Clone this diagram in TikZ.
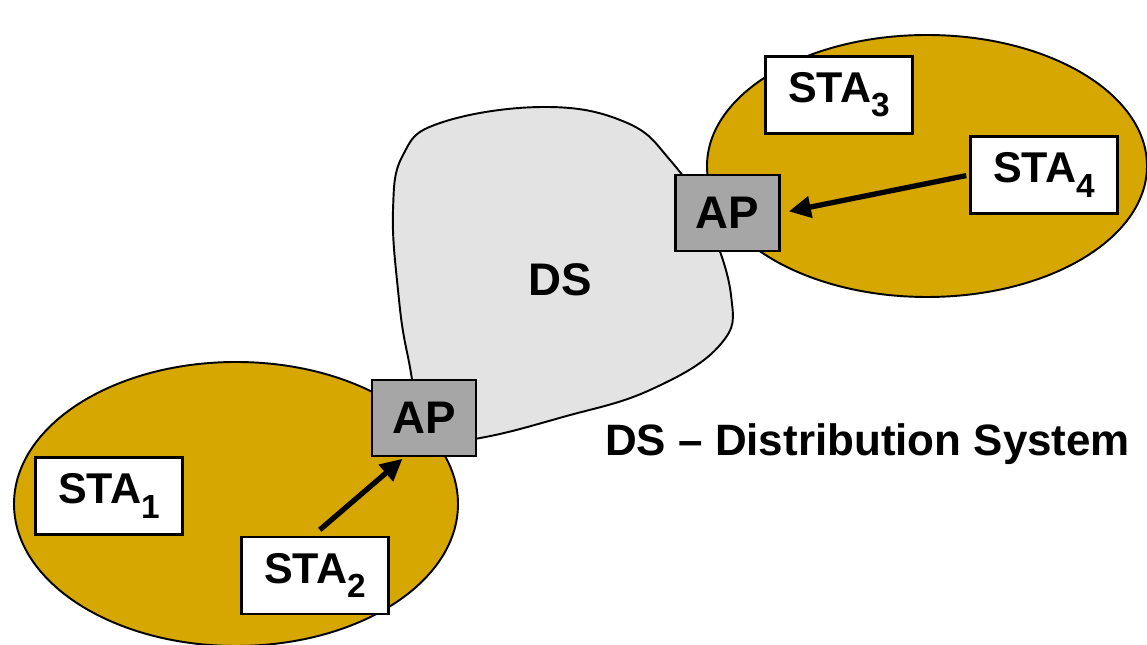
\documentclass[tikz,border=0pt]{standalone}
\usepackage{fontspec}
\setmainfont{Liberation Sans}
\usetikzlibrary{arrows.meta}
\usetikzlibrary{positioning}
\definecolor{bssgold}{RGB}{213,167,0}
\definecolor{apgray}{RGB}{166,166,166}
\definecolor{dsgray}{RGB}{227,227,227}
\newcommand{\sta}[1]{STA\raisebox{-0.33em}{\fontsize{19}{19}\selectfont #1}}

\begin{document}
\begin{tikzpicture}[
  bss/.style={fill=bssgold,draw=black,line width=1.1pt},
  apbox/.style={rectangle,draw=black,line width=1.7pt,fill=apgray,minimum width=2.08cm,minimum height=1.52cm,font=\fontsize{26}{29}\selectfont\bfseries},
  stabox/.style={rectangle,draw=black,line width=1.5pt,fill=white,minimum width=2.94cm,minimum height=1.54cm,font=\fontsize{24.5}{28}\selectfont\bfseries},
  arr/.style={line width=3pt,-{Triangle[length=0.44cm,width=0.42cm]}}
]
\useasboundingbox (0,0) rectangle (22.94,12.9);
\draw[bss] (4.72,2.82) ellipse (4.44cm and 2.84cm);
\draw[bss] (18.54,9.58) ellipse (4.40cm and 2.62cm);
\draw[fill=dsgray,line width=1.1pt] plot[smooth cycle,tension=0.7] coordinates {
  (10.86,10.76) (12.50,10.46) (13.40,9.70) (14.10,8.60) (14.62,7.00)
  (14.40,6.00) (13.00,5.10) (11.26,4.56) (9.60,4.14) (8.60,4.10)
  (8.16,5.76) (7.96,7.10) (7.86,8.70) (8.06,9.80) (8.80,10.44)};
\node[font=\fontsize{26}{29}\selectfont\bfseries] (ds) at (11.2,7.30) {DS};

\node[apbox] (apl) at (8.48,4.54) {AP};
\node[apbox] (apu) at (14.55,8.64) {AP};

\node[stabox] (sta1) at (2.18,2.98) {\sta{1}};
\node[stabox] (sta2) at (6.30,1.39) {\sta{2}};
\node[stabox] (sta3) at (16.78,11.0) {\sta{3}};
\node[stabox] (sta4) at (20.88,9.40) {\sta{4}};

\draw[arr,shorten <=0.18cm,shorten >=0.04cm] ([xshift=-0.04cm]sta2.north) -- ([xshift=-0.4cm]apl.south);
\draw[arr,shorten <=0.06cm,shorten >=0.16cm] (sta4.west) -- (apu.east);

\node[font=\fontsize{25}{29}\selectfont\bfseries,anchor=west] (caption) at (11.98,4.02) {DS -- Distribution System};
\end{tikzpicture}
\end{document}
